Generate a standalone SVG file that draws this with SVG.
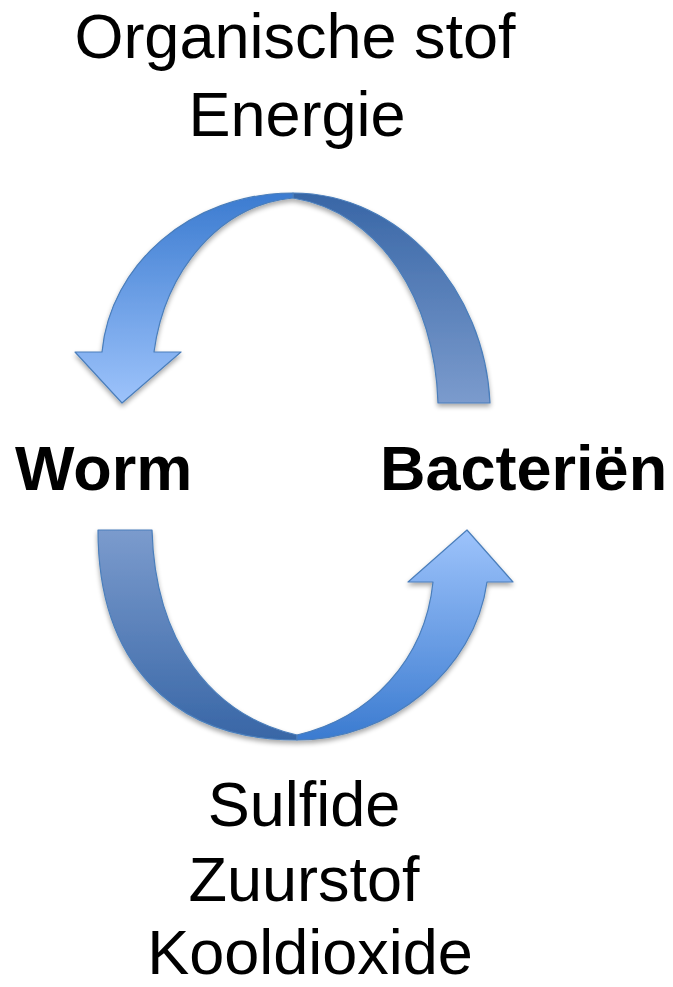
<svg xmlns="http://www.w3.org/2000/svg" width="673" height="987" viewBox="0 0 673 987">
  <style>
    .lbl { font-family: "Liberation Sans", Arial, sans-serif; font-size: 63px; fill: #000; text-anchor: middle; }
    .node { font-family: "Liberation Sans", Arial, sans-serif; font-size: 63px; font-weight: bold; fill: #000; }
    .arrow { stroke: #4a7ebb; stroke-width: 1.2; stroke-linejoin: round; }
  </style>
  <defs>
    <linearGradient id="topFront" gradientUnits="userSpaceOnUse" x1="0" y1="193" x2="0" y2="403">
      <stop offset="0" stop-color="#3b7bd0"/>
      <stop offset="1" stop-color="#9dc3fb"/>
    </linearGradient>
    <linearGradient id="topBack" gradientUnits="userSpaceOnUse" x1="0" y1="193" x2="0" y2="403">
      <stop offset="0" stop-color="#3866a6"/>
      <stop offset="1" stop-color="#7b9bcd"/>
    </linearGradient>
    <linearGradient id="botBack" gradientUnits="userSpaceOnUse" x1="0" y1="530" x2="0" y2="740">
      <stop offset="0" stop-color="#7b9bcd"/>
      <stop offset="1" stop-color="#3866a6"/>
    </linearGradient>
    <linearGradient id="botFront" gradientUnits="userSpaceOnUse" x1="0" y1="740" x2="0" y2="530">
      <stop offset="0" stop-color="#3b7bd0"/>
      <stop offset="1" stop-color="#9dc3fb"/>
    </linearGradient>
    <filter id="shadow" x="-10%" y="-10%" width="120%" height="130%">
      <feGaussianBlur in="SourceAlpha" stdDeviation="2.5"/>
      <feOffset dx="0" dy="3" result="b"/>
      <feComponentTransfer><feFuncA type="linear" slope="0.35"/></feComponentTransfer>
      <feMerge><feMergeNode/><feMergeNode in="SourceGraphic"/></feMerge>
    </filter>
  </defs>

  <g id="connectors">
    <g id="arrow-bacterien-worm" filter="url(#shadow)">
      <path class="arrow" fill="url(#topBack)" d="M 293,193 C 400,193 485,290 490,403 L 438,403 C 435,300 380,212 293,198 Z"/>
      <path class="arrow" fill="url(#topFront)" d="M 293,193 C 190,193 110,265 102,352 L 75,352 L 122,403 L 181,352 L 154,352 C 165,270 220,205 293,198 Z"/>
    </g>
    <g id="arrow-worm-bacterien" filter="url(#shadow)">
      <path class="arrow" fill="url(#botBack)" d="M 98,530 L 152,530 C 155,640 210,715 297,735 L 297,740 C 170,740 98,660 98,530 Z"/>
      <path class="arrow" fill="url(#botFront)" d="M 297,740 C 390,740 475,670 487,582 L 513,582 L 467,530 L 408,582 L 433,582 C 425,660 370,718 297,735 Z"/>
    </g>
    <g id="label-top">
      <text class="lbl" x="295" y="58">Organische stof</text>
      <text class="lbl" x="297" y="136">Energie</text>
    </g>
    <g id="label-bottom">
      <text class="lbl" x="304" y="826">Sulfide</text>
      <text class="lbl" x="304" y="901">Zuurstof</text>
      <text class="lbl" x="310" y="974">Kooldioxide</text>
    </g>
  </g>

  <g id="node-worm">
    <text class="node" x="15" y="490">Worm</text>
  </g>
  <g id="node-bacterien">
    <text class="node" x="380" y="490">Bacteriën</text>
  </g>
</svg>
